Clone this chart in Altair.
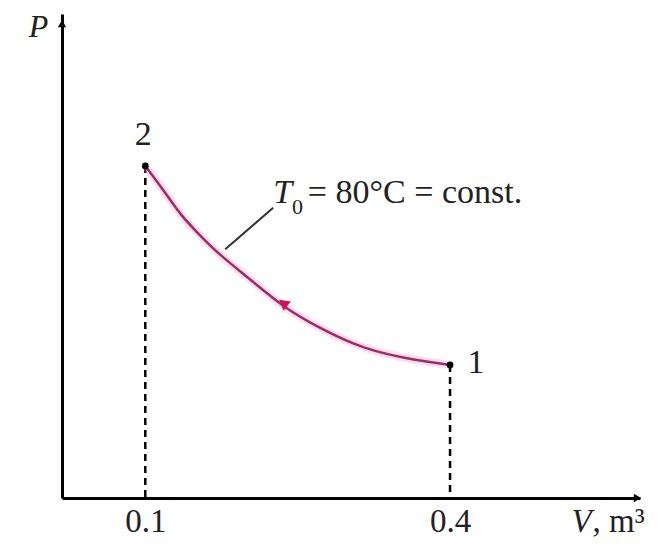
import altair as alt
import pandas as pd

# Isothermal process curve, V in m^3, P in arbitrary units
curve_V = [0.100, 0.1177, 0.1344, 0.1541, 0.1738, 0.2033, 0.2357, 0.2751, 0.3144, 0.3636, 0.400]
curve_P = [68.6, 63.7, 58.5, 54.2, 50.1, 45.2, 39.4, 34.7, 30.8, 28.5, 27.5]

state_V = [0.1, 0.4]
state_P = [68.6, 27.5]
state_names = ["2", "1"]
state_label_V = [0.098, 0.4256]
state_label_P = [74.9, 27.9]

tick_values = [0.1, 0.4]
x_domain = [0.018, 0.587]
y_domain = [0, 100]

FONT = "Liberation Serif"
TXT = "#222222"

xs = alt.Scale(domain=x_domain, nice=False, zero=False)
ys = alt.Scale(domain=y_domain, nice=False, zero=False)

curve_df = pd.DataFrame({"V": curve_V, "P": curve_P, "o": list(range(len(curve_V)))})
state_df = pd.DataFrame({"V": state_V, "P": state_P, "P0": [0, 0]})
lab_df = pd.DataFrame({"V": state_label_V, "P": state_label_P, "t": state_names})

xaxis = alt.Axis(values=tick_values, format=".1f", ticks=False, tickSize=0, grid=False,
                 domainColor="black", domainWidth=3, labelFont=FONT, labelFontSize=33,
                 labelColor=TXT, labelBaseline="alphabetic", labelPadding=33, title=None,
                 labelFlush=False)
yaxis = alt.Axis(values=[], ticks=False, tickSize=0, grid=False, labels=False,
                 domainColor="black", domainWidth=3, title="P", titleAngle=0,
                 titleX=-24, titleY=12, titleBaseline="middle", titleAlign="center",
                 titleFont=FONT, titleFontSize=32, titleFontStyle="italic",
                 titleFontWeight="normal", titleColor=TXT)

base_axes = alt.Chart(state_df).mark_point(opacity=0).encode(
    x=alt.X("V:Q", scale=xs, axis=xaxis),
    y=alt.Y("P:Q", scale=ys, axis=yaxis),
)

dashes = alt.Chart(state_df).mark_rule(color="black", strokeWidth=2.5, strokeDash=[7, 5]).encode(
    x="V:Q", y="P:Q", y2="P0:Q")

halo = alt.Chart(curve_df).mark_line(color="#ff9fd8", strokeWidth=8, opacity=0.35,
                                     interpolate="basis").encode(
    x="V:Q", y="P:Q", order="o:Q")
core = alt.Chart(curve_df).mark_line(color="#9a2e62", strokeWidth=2.5,
                                     interpolate="basis").encode(
    x="V:Q", y="P:Q", order="o:Q")

pts = alt.Chart(state_df).mark_point(filled=True, color="black", size=45, opacity=1).encode(
    x="V:Q", y="P:Q")

arrow_df = pd.DataFrame({"V": [0.2357], "P": [40.3]})
arrow = alt.Chart(arrow_df).mark_point(shape="triangle-up", filled=True, color="#d0105a",
                                       size=140, angle=308, opacity=1).encode(x="V:Q", y="P:Q")

ax_arrows_df = pd.DataFrame({"V": [0.018, 0.5845], "P": [98.0, 0.0],
                             "s": ["triangle-up", "triangle-right"]})
ax_arrows = alt.Chart(ax_arrows_df).mark_point(filled=True, color="black", size=70, opacity=1).encode(
    x="V:Q", y="P:Q", shape=alt.Shape("s:N", scale=None))

leader_df = pd.DataFrame({"V": [0.1787], "P": [51.4], "V2": [0.2259], "P2": [59.96]})
leader = alt.Chart(leader_df).mark_rule(color="#333333", strokeWidth=2).encode(
    x="V:Q", y="P:Q", x2="V2:Q", y2="P2:Q")

labels = alt.Chart(lab_df).mark_text(font=FONT, fontSize=34, color=TXT, align="center",
                                     baseline="middle").encode(x="V:Q", y="P:Q", text="t:N")

ann_V = [0.2259, 0.2445, 0.2600]
ann_P = [61.0, 58.6, 61.0]
ann_text = ["T", "0", "= 80°C = const."]
ann_df = pd.DataFrame({"V": ann_V, "P": ann_P, "t": ann_text})
ann_T = alt.Chart(ann_df.iloc[[0]]).mark_text(font=FONT, fontSize=34, fontStyle="italic", color=TXT,
                                              align="left", baseline="alphabetic").encode(
    x="V:Q", y="P:Q", text="t:N")
ann_sub = alt.Chart(ann_df.iloc[[1]]).mark_text(font=FONT, fontSize=22, color=TXT,
                                                align="left", baseline="alphabetic").encode(
    x="V:Q", y="P:Q", text="t:N")
ann_rest = alt.Chart(ann_df.iloc[[2]]).mark_text(font=FONT, fontSize=34, color=TXT,
                                                 align="left", baseline="alphabetic").encode(
    x="V:Q", y="P:Q", text="t:N")

xt_df = pd.DataFrame({"V": [0.5196, 0.5403], "P": [-7.0, -7.0], "t": ["V", ", m³"]})
xt_V = alt.Chart(xt_df.iloc[[0]]).mark_text(font=FONT, fontSize=33, fontStyle="italic", color=TXT,
                                            align="left", baseline="alphabetic").encode(
    x="V:Q", y="P:Q", text="t:N")
xt_m = alt.Chart(xt_df.iloc[[1]]).mark_text(font=FONT, fontSize=33, color=TXT,
                                            align="left", baseline="alphabetic").encode(
    x="V:Q", y="P:Q", text="t:N")

chart = alt.layer(
    base_axes, dashes, halo, core, leader, arrow, pts, ax_arrows, labels,
    ann_T, ann_sub, ann_rest, xt_V, xt_m,
).properties(
    width=578, height=484,
    autosize=alt.AutoSizeParams(type="none"),
    padding={"left": 54, "top": 6, "right": 14, "bottom": 42},
    background="white",
).configure_view(stroke=None)

chart.save("out.html", embed_options={"renderer": "svg", "actions": False})
